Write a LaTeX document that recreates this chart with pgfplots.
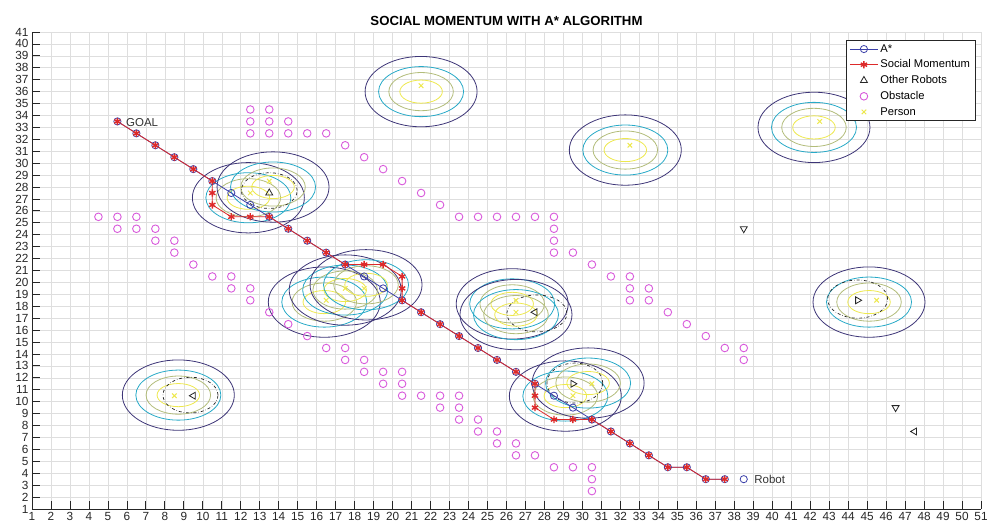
\documentclass[border=0pt]{standalone}
\usepackage{pgfplots}
\pgfplotsset{compat=1.18}
\usepackage{fontspec}
\setmainfont{Liberation Sans}

\definecolor{navy}{HTML}{3D3577}
\definecolor{teal}{HTML}{27A9C7}
\definecolor{olive}{HTML}{B2BC7A}
\definecolor{yell}{HTML}{EDE84E}
\definecolor{obst}{HTML}{D85ADB}
\definecolor{astar}{HTML}{3A3FA8}
\definecolor{sm}{HTML}{DD2A2A}
\definecolor{gridc}{HTML}{DEDEDE}
\definecolor{axc}{HTML}{262626}

% social cost contours round one person
\newcommand{\social}[2]{%
  \draw[yell, line width=0.8pt] (axis cs:#1,#2) ellipse [x radius=1.12, y radius=0.97];
  \draw[olive, line width=0.8pt] (axis cs:#1,#2) ellipse [x radius=1.70, y radius=1.60];
  \draw[teal, line width=0.8pt] (axis cs:#1,#2) ellipse [x radius=2.24, y radius=2.10];
  \draw[navy, line width=0.8pt] (axis cs:#1,#2) ellipse [x radius=2.95, y radius=2.95];
}
\newcommand{\robzone}[4]{%
  \draw[black!85, dash dot, line width=0.7pt] (axis cs:#1,#2) ellipse [x radius=#3, y radius=#4];
}

\begin{document}
\begin{tikzpicture}[x=1pt,y=1pt]
\useasboundingbox (0,0) rectangle (996,526);
\begin{axis}[
    at={(32pt,17pt)}, anchor=south west,
    scale only axis,
    width=949pt, height=477pt,
    xmin=1, xmax=51, ymin=1, ymax=41,
    xtick={1,2,...,51}, ytick={1,2,...,41},
    axis x line*=bottom, axis y line*=left,
    axis line style={axc, line width=0.8pt},
    tick align=inside,
    major tick length=8pt,
    tick style={axc, line width=0.8pt},
    grid=major,
    grid style={gridc, line width=0.6pt},
    ticklabel style={font=\fontsize{11.8}{12}\selectfont, text=axc},
    /pgf/number format/assume math mode=true,
    title={\bfseries SOCIAL MOMENTUM WITH A* ALGORITHM},
    title style={font=\fontsize{13.2}{14}\selectfont, yshift=-3pt},
    legend style={at={(0.994,0.983)}, anchor=north east,
        font=\fontsize{11.2}{12}\selectfont, draw=black!85, fill=white,
        line width=0.7pt,
        inner xsep=3pt, inner ysep=2pt, row sep=2.2pt},
    legend image code/.code={\draw[mark repeat=2, mark phase=2, #1]
        plot coordinates {(0pt,0pt) (14pt,0pt) (28pt,0pt)};},
    legend cell align=left,
    clip=false,
]

% contours of the persons
\social{21.5}{36.0}
\social{32.26}{31.1}
\social{42.2}{33.0}
\social{45.1}{18.35}
\social{8.71}{10.55}
\social{12.4}{27.1}
\social{13.7}{28.0}
\social{16.4}{18.35}
\social{17.5}{19.36}
\social{18.6}{19.8}
\social{26.3}{18.2}
\social{26.5}{17.3}
\social{29.1}{10.47}
\social{30.3}{11.56}

\robzone{13.5}{27.7}{1.47}{1.5}
\robzone{9.35}{10.55}{1.45}{1.5}
\robzone{27.6}{17.4}{1.58}{1.55}
\robzone{29.6}{11.56}{1.47}{1.68}
\robzone{44.5}{18.6}{1.58}{1.6}

% A*
\addplot[color=astar, line width=0.8pt, mark=o, mark size=3.6pt] coordinates {
(5.5,33.5) (6.5,32.5) (7.5,31.5) (8.5,30.5) (9.5,29.5) (10.5,28.5)
(11.5,27.5) (12.5,26.5) (13.5,25.5) (14.5,24.5) (15.5,23.5) (16.5,22.5)
(17.5,21.5) (18.5,20.5) (19.5,19.5) (20.5,18.5) (21.5,17.5) (22.5,16.5)
(23.5,15.5) (24.5,14.5) (25.5,13.5) (26.5,12.5) (27.5,11.5) (28.5,10.5)
(29.5,9.5) (30.5,8.5) (31.5,7.5) (32.5,6.5) (33.5,5.5) (34.5,4.5)
(35.5,4.5) (36.5,3.5) (37.5,3.5)
};
\addlegendentry{A*}

% Social Momentum
\addplot[color=sm, line width=0.8pt, mark=asterisk, mark size=3.6pt, mark options={line width=1.4pt}] coordinates {
(5.5,33.5) (6.5,32.5) (7.5,31.5) (8.5,30.5) (9.5,29.5) (10.5,28.5)
(10.5,27.5) (10.5,26.5) (11.5,25.5) (12.5,25.5) (13.5,25.5) (14.5,24.5)
(15.5,23.5) (16.5,22.5) (17.5,21.5) (18.5,21.5) (19.5,21.5) (20.5,20.5)
(20.5,19.5) (20.5,18.5) (21.5,17.5) (22.5,16.5) (23.5,15.5) (24.5,14.5)
(25.5,13.5) (26.5,12.5) (27.5,11.5) (27.5,10.5) (27.5,9.5) (28.5,8.5)
(29.5,8.5) (30.5,8.5) (31.5,7.5) (32.5,6.5) (33.5,5.5) (34.5,4.5)
(35.5,4.5) (36.5,3.5) (37.5,3.5)
};
\addlegendentry{Social Momentum}

% other robots
\addplot[only marks, mark=triangle, mark size=4pt, color=black!85, mark options={line width=0.8pt}] coordinates {
(13.5,27.5)
};
\addlegendentry{Other Robots}

% obstacles
\addplot[only marks, mark=o, mark size=3.8pt, color=obst, mark options={line width=0.9pt}] coordinates {
(12.5,34.5) (13.5,34.5)
(12.5,33.5) (13.5,33.5) (14.5,33.5)
(12.5,32.5) (13.5,32.5) (14.5,32.5) (15.5,32.5) (16.5,32.5)
(17.5,31.5) (18.5,30.5) (19.5,29.5) (20.5,28.5) (21.5,27.5) (22.5,26.5)
(4.5,25.5) (5.5,25.5) (6.5,25.5) (23.5,25.5) (24.5,25.5) (25.5,25.5) (26.5,25.5) (27.5,25.5) (28.5,25.5)
(5.5,24.5) (6.5,24.5) (7.5,24.5) (28.5,24.5)
(7.5,23.5) (8.5,23.5) (28.5,23.5)
(8.5,22.5) (28.5,22.5) (29.5,22.5)
(9.5,21.5) (30.5,21.5)
(10.5,20.5) (11.5,20.5) (31.5,20.5) (32.5,20.5)
(11.5,19.5) (12.5,19.5) (32.5,19.5) (33.5,19.5)
(12.5,18.5) (32.5,18.5) (33.5,18.5)
(13.5,17.5) (34.5,17.5)
(14.5,16.5) (35.5,16.5)
(15.5,15.5) (36.5,15.5)
(16.5,14.5) (17.5,14.5) (37.5,14.5) (38.5,14.5)
(17.5,13.5) (18.5,13.5) (38.5,13.5)
(18.5,12.5) (19.5,12.5) (20.5,12.5)
(19.5,11.5) (20.5,11.5)
(20.5,10.5) (21.5,10.5) (22.5,10.5) (23.5,10.5)
(22.5,9.5) (23.5,9.5)
(23.5,8.5) (24.5,8.5)
(24.5,7.5) (25.5,7.5)
(25.5,6.5) (26.5,6.5)
(26.5,5.5) (27.5,5.5)
(28.5,4.5) (29.5,4.5) (30.5,4.5)
(30.5,3.5) (30.5,2.5)
};
\addlegendentry{Obstacle}

% persons
\addplot[only marks, mark=x, mark size=3.2pt, color=yell, mark options={line width=1pt}] coordinates {
(21.5,36.5) (32.5,31.5) (42.5,33.5) (45.5,18.5) (8.5,10.5)
(12.5,27.5) (13.5,28.5) (16.5,18.5) (17.5,19.5) (18.5,19.5)
(26.5,17.5) (26.5,18.5) (29.5,10.5) (30.5,11.5)
};
\addlegendentry{Person}

% other robots, other headings
\addplot[forget plot, only marks, mark=triangle, mark size=4pt, color=black!85, mark options={line width=0.8pt, rotate=180}] coordinates {
(38.5,24.5) (46.5,9.5)
};
\addplot[forget plot, only marks, mark=triangle, mark size=4pt, color=black!85, mark options={line width=0.8pt, rotate=90}] coordinates {
(9.5,10.5) (27.5,17.5) (47.5,7.5)
};
\addplot[forget plot, only marks, mark=triangle, mark size=4pt, color=black!85, mark options={line width=0.8pt, rotate=-90}] coordinates {
(29.5,11.5) (44.5,18.5)
};

% robot start
\addplot[forget plot, only marks, mark=o, mark size=3.6pt, color=astar, mark options={line width=0.8pt}] coordinates {
(38.5,3.5)
};

\node[anchor=west, text=black!80, font=\fontsize{11.5}{12}\selectfont, inner sep=0pt] at (axis cs:5.95,33.4) {GOAL};
\node[anchor=west, text=black!80, font=\fontsize{11.5}{12}\selectfont, inner sep=0pt] at (axis cs:39.05,3.45) {Robot};
\end{axis}
\end{tikzpicture}
\end{document}
